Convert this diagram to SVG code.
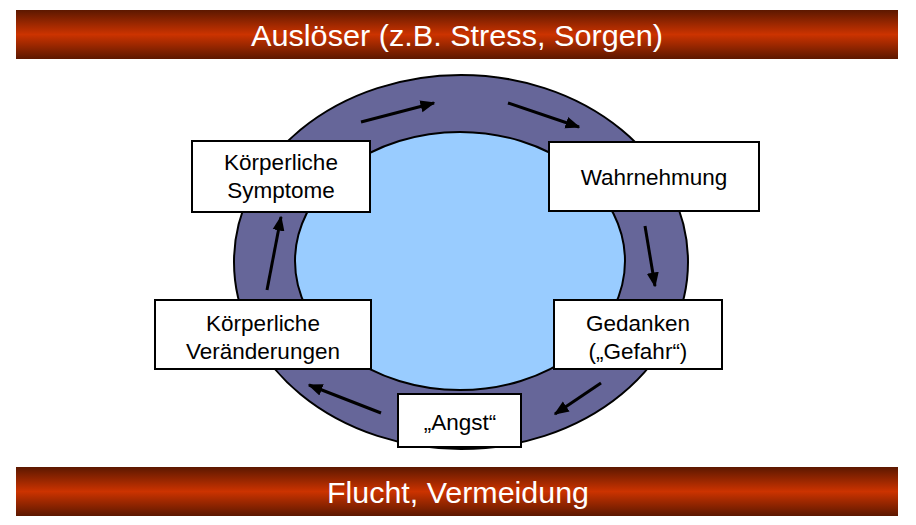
<svg xmlns="http://www.w3.org/2000/svg" width="916" height="525" viewBox="0 0 916 525">
<defs>
<linearGradient id="bar" x1="0" y1="0" x2="0" y2="1">
<stop offset="0" stop-color="#5c1800"/>
<stop offset="0.5" stop-color="#cc3300"/>
<stop offset="1" stop-color="#5c1800"/>
</linearGradient>
<marker id="ah" viewBox="0 0 10 10" refX="9" refY="5" markerWidth="5" markerHeight="5" orient="auto" markerUnits="strokeWidth">
<path d="M0,1 L10,5 L0,9 Z" fill="#000"/>
</marker>
<style>
.bar{fill:url(#bar)}
.bt{fill:#fff;font-family:"Liberation Sans",Arial,sans-serif;font-size:30px;text-anchor:middle}
.box{fill:#fff;stroke:#000;stroke-width:2}
.t{fill:#000;font-family:"Liberation Sans",Arial,sans-serif;font-size:22.5px;text-anchor:middle}
.c{stroke:#000;stroke-width:3;fill:none;marker-end:url(#ah)}
</style>
</defs>
<rect width="916" height="525" fill="#fff"/>
<g id="trigger">
<rect class="bar" x="16" y="10" width="882" height="49"/>
<text class="bt" x="457" y="46" textLength="412" lengthAdjust="spacingAndGlyphs">Auslöser (z.B. Stress, Sorgen)</text>
</g>
<g id="outcome">
<rect class="bar" x="16" y="467" width="882" height="49"/>
<text class="bt" x="458" y="503" textLength="262" lengthAdjust="spacingAndGlyphs">Flucht, Vermeidung</text>
</g>
<g id="ring">
<ellipse cx="461" cy="262" rx="227" ry="187" fill="#666699" stroke="#000" stroke-width="2"/>
<ellipse cx="460" cy="261" rx="165" ry="129" fill="#99ccff" stroke="#000" stroke-width="2"/>
</g>
<g id="connectors">
<line class="c" x1="361" y1="122" x2="434" y2="103"/>
<line class="c" x1="508" y1="103" x2="579" y2="127"/>
<line class="c" x1="645" y1="226" x2="655" y2="286"/>
<line class="c" x1="601" y1="383" x2="555" y2="414"/>
<line class="c" x1="381" y1="413" x2="309" y2="385"/>
<line class="c" x1="267" y1="290" x2="281" y2="217"/>
</g>
<g id="symptome">
<rect class="box" x="192" y="141" width="178" height="71"/>
<text class="t" x="281" y="170">Körperliche</text>
<text class="t" x="281" y="198">Symptome</text>
</g>
<g id="wahrnehmung">
<rect class="box" x="549" y="142" width="210" height="69"/>
<text class="t" x="654" y="185">Wahrnehmung</text>
</g>
<g id="gedanken">
<rect class="box" x="554" y="300" width="168" height="69"/>
<text class="t" x="638" y="331">Gedanken</text>
<text class="t" x="638" y="359">(„Gefahr“)</text>
</g>
<g id="angst">
<rect class="box" x="398" y="394" width="123" height="53"/>
<text class="t" x="460" y="430">„Angst“</text>
</g>
<g id="veraenderungen">
<rect class="box" x="155" y="300" width="216" height="69"/>
<text class="t" x="263" y="331">Körperliche</text>
<text class="t" x="263" y="359">Veränderungen</text>
</g>
</svg>
